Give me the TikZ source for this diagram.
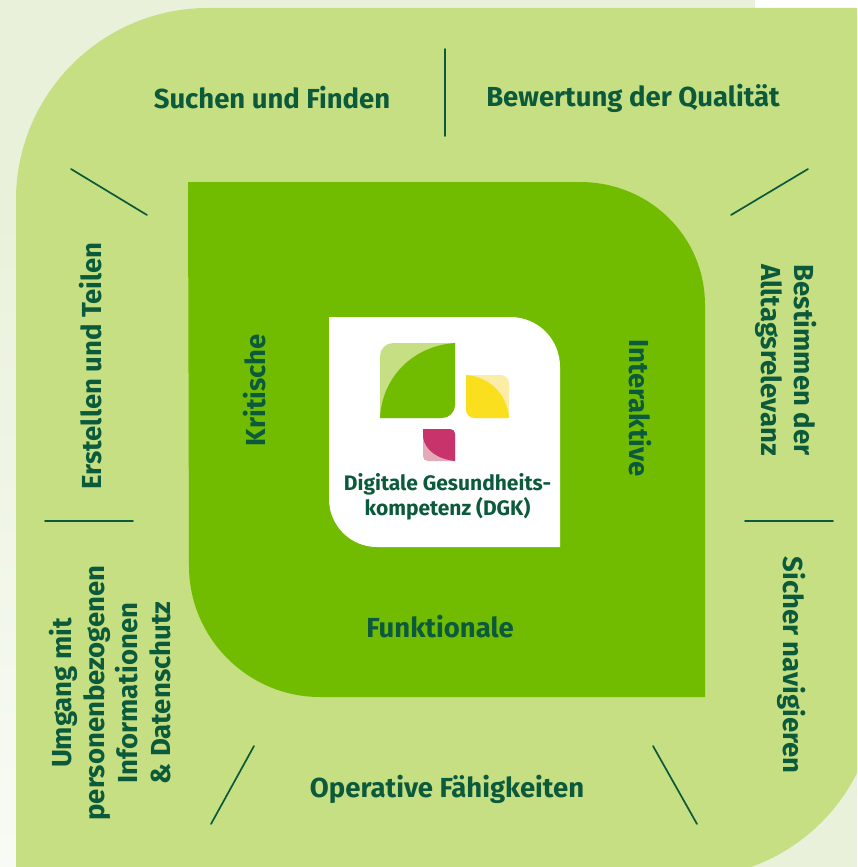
\documentclass[tikz,border=0pt]{standalone}
\usepackage{fontspec}
\setmainfont{Fira Sans}
\definecolor{pale}{HTML}{E9F1DA}
\definecolor{paler}{HTML}{F8FBF5}
\definecolor{lightg}{HTML}{C5DF82}
\definecolor{midg}{HTML}{71BC00}
\definecolor{dkg}{HTML}{0C5A3C}
\definecolor{yel}{HTML}{FADF1E}
\definecolor{yellt}{HTML}{FBEDA5}
\definecolor{mag}{HTML}{C9336C}
\definecolor{maglt}{HTML}{E3AABA}
\tikzset{
  lab/.style={font=\fontsize{27.5}{33}\selectfont\bfseries, text=dkg, align=center, inner sep=0pt},
  labsmall/.style={font=\fontsize{21}{25}\selectfont\bfseries, text=dkg, align=center, inner sep=0pt},
  tick/.style={draw=dkg, line width=1.7pt, line cap=round}
}
\begin{document}
\begin{tikzpicture}[x=1pt,y=-1pt]
\useasboundingbox (0,0) rectangle (857,867);
\fill[pale] (0,0) rectangle (857,867);
\fill[white] (755,0) rectangle (857,8);
\shade[top color=pale,bottom color=paler] (0,200) rectangle (17,867);
% outer shape
\path[clip] (0,0) rectangle (857,867);
\fill[lightg] (16,200) .. controls (16,94) and (102,8) .. (208,8) -- (900,8) -- (900,688)
  -- (877,688) .. controls (877,793) and (792,878) .. (687,878) -- (16,878) -- cycle;
% inner shape
\fill[midg] (188,182) -- (580,182) .. controls (649,182) and (705,236) .. (705,305) -- (705,697) -- (320,697)
  .. controls (248,697) and (189,638) .. (189,566) -- cycle;
% white box
\fill[white] (329,317) -- (510,317) .. controls (538,317) and (560,339) .. (560,367) -- (560,547) -- (377,547)
  .. controls (350,547) and (329,525) .. (329,499) -- cycle;
% logo large leaf
\fill[lightg] (380,418) -- (380,356) .. controls (380,349) and (386,343) .. (393,343) -- (455,343) -- (455,405)
  .. controls (455,412) and (449,418) .. (442,418) -- cycle;
\fill[midg] (380,418) .. controls (382,378) and (412,346) .. (455,343) -- (455,405)
  .. controls (455,412) and (449,418) .. (442,418) -- cycle;
% yellow
\fill[yellt] (466,375) -- (501,375) .. controls (505,375) and (509,379) .. (509,383) -- (509,418) -- (474,418)
  .. controls (470,418) and (466,414) .. (466,410) -- cycle;
\fill[yel] (466,375) .. controls (490,377) and (507,394) .. (509,418) -- (474,418)
  .. controls (470,418) and (466,414) .. (466,410) -- cycle;
% magenta
\fill[maglt] (423,429) -- (450,429) .. controls (453,429) and (455,431) .. (455,434) -- (455,461) -- (428,461)
  .. controls (425,461) and (423,459) .. (423,456) -- cycle;
\fill[mag] (423,429) -- (450,429) .. controls (453,429) and (455,431) .. (455,434) -- (455,461)
  .. controls (437,459) and (425,450) .. (423,437) -- cycle;
% ticks
\draw[tick] (445,49) -- (445,136);
\draw[tick] (71,169) -- (147,215);
\draw[tick] (808,169) -- (731,215);
\draw[tick] (45,521) -- (133,521);
\draw[tick] (745,521) -- (833,521);
\draw[tick] (254,746) -- (211,824);
\draw[tick] (653,746) -- (697,824);
% labels
\node[lab] (such) at (272,98) {Suchen und Finden};
\node[lab] (bewert) at (633,98) {Bewertung der Qualität};
\node[lab,rotate=90] (erst) at (91,366) {Erstellen und Teilen};
\node[lab,rotate=-90] (best) at (786,360) {Bestimmen der\\Alltagsrelevanz};
\node[lab,rotate=-90] (sicher) at (792,665) {Sicher navigieren};
\node[lab,rotate=90] (umgang) at (110,693) {Umgang mit\\personenbezogenen\\Informationen\\\& Datenschutz};
\node[lab] (oper) at (447,789) {Operative Fähigkeiten};
\node[lab,rotate=90] (krit) at (255,390) {Kritische};
\node[lab,rotate=-90] (inter) at (640,408) {Interaktive};
\node[lab] (funk) at (440,627) {Funktionale};
\node[labsmall] (dgk) at (447.5,497) {Digitale Gesundheits-\\kompetenz (DGK)};
\end{tikzpicture}
\end{document}
